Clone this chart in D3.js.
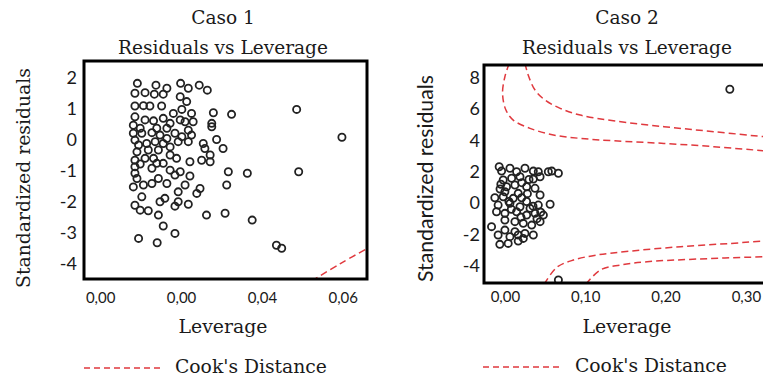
<!DOCTYPE html>
<html><head><meta charset="utf-8">
<script src="https://cdn.jsdelivr.net/npm/d3@7"></script>
<style>body{margin:0;background:#fff;} svg{display:block}</style>
</head><body><svg id="chart" width="763" height="378"></svg>
<script>
// ---------- Caso 1 data ----------
const case1Leverage = [0.0092,0.0138,0.0199,0.0218,0.0245,0.0265,0.0165,0.0086,0.0111,0.0134,0.0156,0.0198,0.0214,0.0086,0.0107,0.0123,0.0152,0.0202,0.0181,0.0226,0.0280,0.0325,0.0086,0.0111,0.0132,0.0156,0.0173,0.0198,0.0210,0.0230,0.0276,0.0276,0.0082,0.0103,0.0128,0.0148,0.0165,0.0185,0.0202,0.0226,0.0288,0.0304,0.0086,0.0095,0.0115,0.0136,0.0156,0.0173,0.0193,0.0218,0.0255,0.0259,0.0091,0.0119,0.0144,0.0173,0.0189,0.0086,0.0111,0.0132,0.0156,0.0222,0.0251,0.0272,0.0272,0.0099,0.0128,0.0140,0.0173,0.0198,0.0317,0.0086,0.0091,0.0107,0.0128,0.0144,0.0165,0.0185,0.0222,0.0210,0.0247,0.0239,0.0313,0.0082,0.0193,0.0103,0.0148,0.0160,0.0193,0.0185,0.0218,0.0086,0.0099,0.0119,0.0144,0.0263,0.0309,0.0156,0.0185,0.0095,0.0141,0.0376,0.0436,0.0449,0.0486,0.0598,0.0491,0.0364,0.0082,0.0099,0.0140,0.0165,0.0218,0.0086];
const case1Residuals = [1.83,1.77,1.83,1.67,1.77,1.61,1.67,1.51,1.53,1.48,1.48,1.40,1.24,1.10,1.11,1.10,1.10,0.99,0.86,0.86,0.88,0.83,0.75,0.65,0.62,0.70,0.54,0.65,0.59,0.59,0.54,0.43,0.22,0.22,0.24,0.16,0.05,0.22,0.11,0.16,0.02,-0.27,0.00,-0.16,-0.11,-0.05,-0.11,-0.22,-0.05,-0.05,-0.11,-0.27,-0.38,-0.32,-0.32,-0.48,-0.59,-0.65,-0.59,-0.59,-0.75,-0.70,-0.65,-0.48,-0.70,-0.77,-0.91,-0.75,-0.97,-1.02,-1.02,-1.07,-1.24,-1.45,-1.40,-1.24,-1.40,-1.13,-1.16,-1.45,-1.56,-1.72,-1.45,-1.51,-1.67,-1.83,-1.99,-1.88,-1.99,-2.13,-2.07,-2.10,-2.26,-2.28,-2.42,-2.42,-2.36,-2.77,-3.01,-3.17,-3.31,-2.58,-3.39,-3.49,0.99,0.09,-1.02,-1.07,0.48,0.38,0.38,0.38,0.32,-0.86];
const case1CookLeverage = [0.0523,0.0593,0.0667];
const case1CookResidual = [-4.55,-3.99,-3.45];
const case1XTicks = [0,0.02,0.04,0.06];
const case1XTickLabels = ["0,00","0,00","0,04","0,06"];
const case1YTicks = [2,1,0,-1,-2,-3,-4];

// ---------- Caso 2 data ----------
const case2Leverage = [-0.0071,-0.0041,0.0063,0.0146,0.0250,0.0354,0.0416,0.0541,0.0584,0.0666,-0.0021,0.0084,0.0188,0.0354,0.0438,0.0021,0.0125,0.0271,0.0375,0.0000,0.0166,0.0438,-0.0125,-0.0021,0.0104,0.0209,0.0563,-0.0084,0.0063,0.0188,0.0313,0.0416,-0.0104,0.0000,0.0146,0.0271,0.0375,0.0479,0.0000,0.0125,0.0229,0.0334,0.0438,-0.0166,0.0000,0.0125,0.0250,0.0354,-0.0084,0.0063,0.0166,-0.0063,0.0041,0.0166,0.0229,0.0446,0.0666,0.2800,-0.0050,0.0210,0.0300,0.0050,0.0270,0.0350,0.0200,0.0080,0.0400,0.0280,-0.0060];
const case2Residuals = [2.32,2.04,2.22,2.00,2.22,2.04,2.00,2.00,2.04,1.90,1.47,1.58,1.68,1.53,1.68,1.04,1.15,1.04,0.94,0.72,0.62,0.51,0.34,0.40,0.30,0.34,-0.08,-0.13,-0.02,-0.24,-0.34,-0.13,-0.56,-0.66,-0.56,-0.77,-0.66,-0.77,-1.09,-1.19,-1.30,-1.41,-1.19,-1.51,-1.73,-1.83,-1.94,-2.04,-2.04,-2.15,-2.04,-2.64,-2.58,-2.43,-2.26,-0.59,-4.92,7.27,1.20,1.30,1.50,0.10,0.10,-0.20,-0.90,-0.40,-1.00,0.60,0.90];
const case2CookUpperInnerLev = [0.0054,0.0000,-0.0029,0.0013,0.0104,0.0313,0.0604,0.0938,0.1350,0.1980,0.2600,0.3225,0.3400];
const case2CookUpperInnerRes = [8.93,8.07,7.00,5.94,5.30,4.77,4.35,4.13,3.98,3.81,3.60,3.34,3.27];
const case2CookUpperOuterLev = [0.0250,0.0290,0.0375,0.0500,0.0688,0.0938,0.1350,0.1980,0.2600,0.3225,0.3400];
const case2CookUpperOuterRes = [8.93,8.18,7.22,6.58,6.05,5.62,5.26,4.88,4.56,4.24,4.16];
const case2CookLowerInnerLev = [0.0490,0.0646,0.0854,0.1146,0.1563,0.2188,0.2813,0.3225,0.3400];
const case2CookLowerInnerRes = [-5.18,-4.11,-3.64,-3.32,-3.07,-2.79,-2.58,-2.43,-2.38];
const case2CookLowerOuterLev = [0.1010,0.1188,0.1438,0.1770,0.2400,0.3225,0.3400];
const case2CookLowerOuterRes = [-5.18,-4.28,-3.96,-3.75,-3.58,-3.43,-3.40];
const case2XTicks = [0,0.1,0.2,0.3];
const case2XTickLabels = ["0,00","0,10","0,20","0,30"];
const case2YTicks = [8,6,4,2,0,-2,-4];

const titles = ["Caso 1","Caso 2"];
const subtitle = "Residuals vs Leverage";
const xTitle = "Leverage";
const yTitle = "Standardized residuals";
const legendLabel = "Cook's Distance";

// ---------- drawing ----------
const svg = d3.select("#chart");
const SERIF = "'DejaVu Serif', serif";
const SANS = "Lato, 'Open Sans', sans-serif";
const INK = "#1a1a1a";
const RED = "#e0393e";

function fit(sel, w){
  const l = sel.node().getComputedTextLength();
  const fs = parseFloat(sel.attr("font-size"));
  sel.attr("font-size", (fs*w/l).toFixed(2));
  return sel;
}

const panels = [
  {id:"p1", lev:case1Leverage, res:case1Residuals,
   cooks:[[case1CookLeverage,case1CookResidual]],
   xTicks:case1XTicks, xLabels:case1XTickLabels, yTicks:case1YTicks,
   xDom:[-0.0040,0.0660], yDom:[-4.48,2.55],
   L:84, R:367, T:61, B:279, xTickY:23.7, yPad:7,
   cx:223, yTitleX:30, yTitleY:178, yTitleLen:220, yTitleFont:SERIF,
   legLine:[84,162], legY:368, legTextX:175, legTextY:373},
  {id:"p2", lev:case2Leverage, res:case2Residuals,
   cooks:[[case2CookUpperInnerLev,case2CookUpperInnerRes],[case2CookUpperOuterLev,case2CookUpperOuterRes],
          [case2CookLowerInnerLev,case2CookLowerInnerRes],[case2CookLowerOuterLev,case2CookLowerOuterRes]],
   xTicks:case2XTicks, xLabels:case2XTickLabels, yTicks:case2YTicks,
   xDom:[-0.026,0.3325], yDom:[-5.11,8.82],
   L:484, R:772, T:65, B:283, xTickY:18.7, yPad:4,
   cx:627, yTitleX:433, yTitleY:178.5, yTitleLen:207, yTitleFont:SANS,
   legLine:[483,562], legY:367, legTextX:575, legTextY:372}
];

panels.forEach((p,i)=>{
  const x = d3.scaleLinear().domain(p.xDom).range([p.L,p.R]);
  const y = d3.scaleLinear().domain(p.yDom).range([p.B,p.T]);
  const g = svg.append("g");

  g.append("clipPath").attr("id","clip-"+p.id).append("rect")
    .attr("x",p.L).attr("y",p.T).attr("width",p.R-p.L).attr("height",p.B-p.T);

  // titles
  const sub = fit(g.append("text").attr("x",p.cx).attr("y",54).attr("text-anchor","middle")
    .attr("font-family",SERIF).attr("font-size",16).attr("fill",INK).text(subtitle), 210);
  g.append("text").attr("x",p.cx).attr("y",24).attr("text-anchor","middle")
    .attr("font-family",SERIF).attr("font-size",sub.attr("font-size")).attr("fill",INK).text(titles[i]);

  // cook's curves
  const line = d3.line().x(d=>x(d[0])).y(d=>y(d[1])).curve(d3.curveCatmullRom);
  const cg = g.append("g").attr("clip-path","url(#clip-"+p.id+")");
  p.cooks.forEach(([lv,rs])=>{
    cg.append("path").datum(lv.map((v,k)=>[v,rs[k]]))
      .attr("d",line).attr("fill","none").attr("stroke",RED)
      .attr("stroke-width",1.5).attr("stroke-dasharray","7,4");
  });

  // points
  const pg = g.append("g").attr("clip-path","url(#clip-"+p.id+")");
  pg.selectAll("circle").data(p.lev.map((v,k)=>[v,p.res[k]])).join("circle")
    .attr("cx",d=>x(d[0])).attr("cy",d=>y(d[1])).attr("r",3.6)
    .attr("fill","none").attr("stroke","#222").attr("stroke-width",1.8);

  // frame
  g.append("rect").attr("x",p.L).attr("y",p.T).attr("width",p.R-p.L).attr("height",p.B-p.T)
    .attr("fill","none").attr("stroke","#000").attr("stroke-width",3);

  // x axis
  const xa = g.append("g").attr("transform",`translate(0,${p.B})`)
    .call(d3.axisBottom(x).tickValues(p.xTicks).tickSize(0)
      .tickFormat((d,k)=>p.xLabels[k]));
  xa.select(".domain").remove();
  xa.selectAll("text").attr("y",p.xTickY).attr("dy",0)
    .attr("font-family",SANS).attr("font-size",15).attr("fill",INK);

  // y axis
  const ya = g.append("g").attr("transform",`translate(${p.L},0)`)
    .call(d3.axisLeft(y).tickValues(p.yTicks).tickSize(0).tickPadding(p.yPad)
      .tickFormat(d=>String(d)));
  ya.select(".domain").remove();
  ya.selectAll("text").attr("font-family",SANS).attr("font-size",18).attr("fill",INK);

  // axis titles
  fit(g.append("text").attr("x",p.cx).attr("y",333).attr("text-anchor","middle")
    .attr("font-family",SERIF).attr("font-size",16).attr("fill",INK).text(xTitle), 89);
  fit(g.append("text").attr("transform",`translate(${p.yTitleX},${p.yTitleY}) rotate(-90)`)
    .attr("text-anchor","middle").attr("font-family",p.yTitleFont).attr("font-size",16)
    .attr("fill",INK).text(yTitle), p.yTitleLen);

  // legend
  g.append("line").attr("x1",p.legLine[0]).attr("x2",p.legLine[1])
    .attr("y1",p.legY).attr("y2",p.legY).attr("stroke",RED)
    .attr("stroke-width",1.5).attr("stroke-dasharray","6,4");
  fit(g.append("text").attr("x",p.legTextX).attr("y",p.legTextY)
    .attr("font-family",SERIF).attr("font-size",16).attr("fill",INK).text(legendLabel), 152);
});
</script></body></html>
